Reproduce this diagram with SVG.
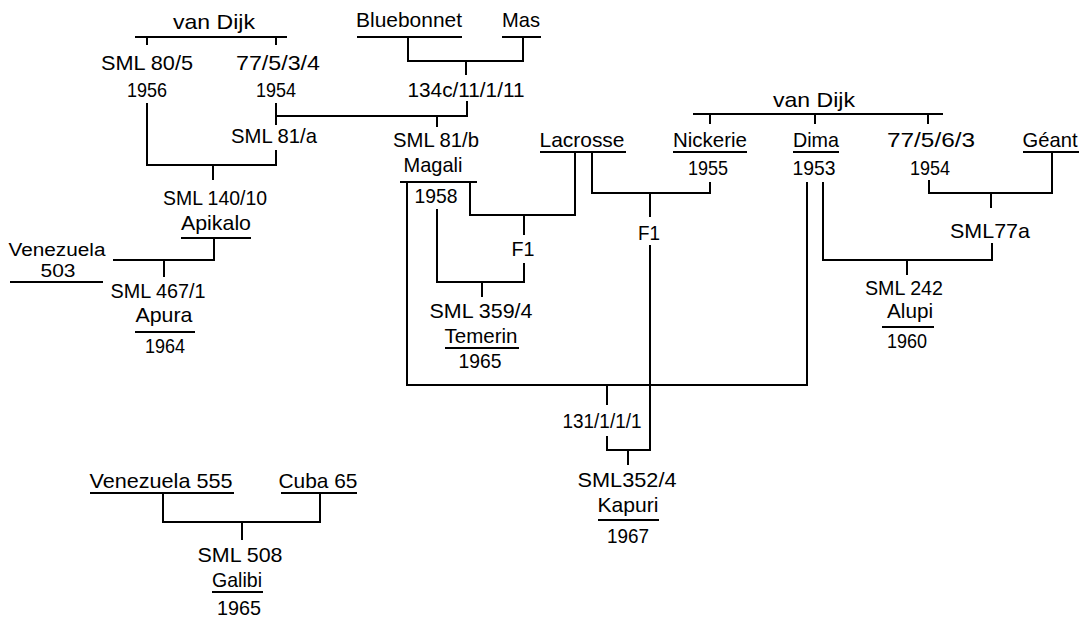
<svg xmlns="http://www.w3.org/2000/svg" width="1089" height="617" viewBox="0 0 1089 617">
<style>
text{font-family:"Liberation Sans",Arial,sans-serif;font-size:21px;fill:#000;text-anchor:middle}
.s{font-size:18px}
.u,.c path,.c line{stroke:#000;stroke-width:2;fill:none}
</style>
<rect width="1089" height="617" fill="#fff"/>
<g id="vandijk-left">
<text x="214" y="29" textLength="82" lengthAdjust="spacingAndGlyphs">van Dijk</text>
</g>
<g id="sml80-5">
<text x="147" y="70" textLength="92" lengthAdjust="spacingAndGlyphs">SML 80/5</text>
<text x="147" y="97" textLength="40" lengthAdjust="spacingAndGlyphs">1956</text>
</g>
<g id="n77-5-3-4">
<text x="278" y="70" textLength="84" lengthAdjust="spacingAndGlyphs">77/5/3/4</text>
<text x="276" y="97" textLength="40" lengthAdjust="spacingAndGlyphs">1954</text>
</g>
<g id="sml81a">
<text x="274" y="143" textLength="86" lengthAdjust="spacingAndGlyphs">SML 81/a</text>
</g>
<g id="apikalo">
<text x="215" y="205" textLength="104" lengthAdjust="spacingAndGlyphs">SML 140/10</text>
<text x="216" y="230" textLength="70" lengthAdjust="spacingAndGlyphs">Apikalo</text>
<line class="u" x1="181" y1="238" x2="251" y2="238"/>
</g>
<g id="venezuela503">
<text class="s" x="57" y="256" textLength="97" lengthAdjust="spacingAndGlyphs">Venezuela</text>
<text class="s" x="58" y="277" textLength="35" lengthAdjust="spacingAndGlyphs">503</text>
<line class="u" x1="10" y1="282" x2="103" y2="282"/>
</g>
<g id="apura">
<text x="158" y="298" textLength="95" lengthAdjust="spacingAndGlyphs">SML 467/1</text>
<text x="164" y="322" textLength="57" lengthAdjust="spacingAndGlyphs">Apura</text>
<line class="u" x1="135" y1="332" x2="195" y2="332"/>
<text x="165" y="353" textLength="40" lengthAdjust="spacingAndGlyphs">1964</text>
</g>
<g id="bluebonnet">
<text x="409" y="27" textLength="106" lengthAdjust="spacingAndGlyphs">Bluebonnet</text>
<line class="u" x1="357" y1="37" x2="462" y2="37"/>
</g>
<g id="mas">
<text x="521" y="27" textLength="38" lengthAdjust="spacingAndGlyphs">Mas</text>
<line class="u" x1="502" y1="37" x2="541" y2="37"/>
</g>
<g id="n134c">
<text x="466" y="97" textLength="117" lengthAdjust="spacingAndGlyphs">134c/11/1/11</text>
</g>
<g id="magali">
<text x="436" y="147" textLength="86" lengthAdjust="spacingAndGlyphs">SML 81/b</text>
<text x="433" y="172" textLength="59" lengthAdjust="spacingAndGlyphs">Magali</text>
<line class="u" x1="400" y1="182" x2="477" y2="182"/>
<text x="436" y="203" textLength="43" lengthAdjust="spacingAndGlyphs">1958</text>
</g>
<g id="lacrosse">
<text x="582" y="147" textLength="85" lengthAdjust="spacingAndGlyphs">Lacrosse</text>
<line class="u" x1="540" y1="152" x2="626" y2="152"/>
</g>
<g id="f1-left">
<text x="523" y="256" textLength="23" lengthAdjust="spacingAndGlyphs">F1</text>
</g>
<g id="temerin">
<text x="481" y="318" textLength="103" lengthAdjust="spacingAndGlyphs">SML 359/4</text>
<text x="481" y="343" textLength="73" lengthAdjust="spacingAndGlyphs">Temerin</text>
<line class="u" x1="445" y1="348" x2="519" y2="348"/>
<text x="480" y="368" textLength="43" lengthAdjust="spacingAndGlyphs">1965</text>
</g>
<g id="nickerie">
<text x="710" y="147" textLength="74" lengthAdjust="spacingAndGlyphs">Nickerie</text>
<line class="u" x1="673" y1="152" x2="747" y2="152"/>
<text x="708" y="175" textLength="40" lengthAdjust="spacingAndGlyphs">1955</text>
</g>
<g id="f1-right">
<text x="649" y="240" textLength="22" lengthAdjust="spacingAndGlyphs">F1</text>
</g>
<g id="vandijk-right">
<text x="814" y="107" textLength="82" lengthAdjust="spacingAndGlyphs">van Dijk</text>
</g>
<g id="dima">
<text x="816" y="147" textLength="46" lengthAdjust="spacingAndGlyphs">Dima</text>
<line class="u" x1="793" y1="152" x2="839" y2="152"/>
<text x="814" y="175" textLength="43" lengthAdjust="spacingAndGlyphs">1953</text>
</g>
<g id="n77-5-6-3">
<text x="931" y="147" textLength="88" lengthAdjust="spacingAndGlyphs">77/5/6/3</text>
<text x="930" y="175" textLength="40" lengthAdjust="spacingAndGlyphs">1954</text>
</g>
<g id="geant">
<text x="1050" y="147" textLength="55" lengthAdjust="spacingAndGlyphs">Géant</text>
<line class="u" x1="1023" y1="152" x2="1079" y2="152"/>
</g>
<g id="sml77a">
<text x="990" y="238" textLength="80" lengthAdjust="spacingAndGlyphs">SML77a</text>
</g>
<g id="alupi">
<text x="904" y="295" textLength="78" lengthAdjust="spacingAndGlyphs">SML 242</text>
<text x="910" y="318" textLength="46" lengthAdjust="spacingAndGlyphs">Alupi</text>
<line class="u" x1="882" y1="327" x2="934" y2="327"/>
<text x="907" y="348" textLength="40" lengthAdjust="spacingAndGlyphs">1960</text>
</g>
<g id="n131">
<text x="602" y="428" textLength="79" lengthAdjust="spacingAndGlyphs">131/1/1/1</text>
</g>
<g id="kapuri">
<text x="627" y="487" textLength="99" lengthAdjust="spacingAndGlyphs">SML352/4</text>
<text x="628" y="512" textLength="61" lengthAdjust="spacingAndGlyphs">Kapuri</text>
<line class="u" x1="598" y1="520" x2="659" y2="520"/>
<text x="628" y="543" textLength="42" lengthAdjust="spacingAndGlyphs">1967</text>
</g>
<g id="venezuela555">
<text x="161" y="488" textLength="143" lengthAdjust="spacingAndGlyphs">Venezuela 555</text>
<line class="u" x1="90" y1="493" x2="234" y2="493"/>
</g>
<g id="cuba65">
<text x="318" y="488" textLength="79" lengthAdjust="spacingAndGlyphs">Cuba 65</text>
<line class="u" x1="281" y1="493" x2="357" y2="493"/>
</g>
<g id="galibi">
<text x="240" y="562" textLength="85" lengthAdjust="spacingAndGlyphs">SML 508</text>
<text x="237" y="587" textLength="50" lengthAdjust="spacingAndGlyphs">Galibi</text>
<line class="u" x1="212" y1="592" x2="263" y2="592"/>
<text x="239" y="615" textLength="44" lengthAdjust="spacingAndGlyphs">1965</text>
</g>
<g id="connectors" class="c">
<path d="M135 37H287M147 37V45M276 37V45"/>
<path d="M147 103V165H276V150M276 103V125M213 165V180"/>
<path d="M276 116H467V101M437 116V127"/>
<path d="M214 238V260H113M164 260V277"/>
<path d="M408 37V61H523V37M466 61V75"/>
<path d="M407 182V385H807V182"/>
<path d="M470 182V215H575V152M524 215V235"/>
<path d="M524 263V282H437V209M482 282V297"/>
<path d="M592 152V193H710V182M650 193V217"/>
<path d="M650 245V450H607V436M607 385V405M628 450V465"/>
<path d="M693 114H943M710 114V124M815 114V124M928 114V124"/>
<path d="M823 182V260H992V243M907 260V275"/>
<path d="M1052 152V193H929V180M991 193V208"/>
<path d="M163 493V522H320V493M242 522V540"/>
</g>
</svg>
